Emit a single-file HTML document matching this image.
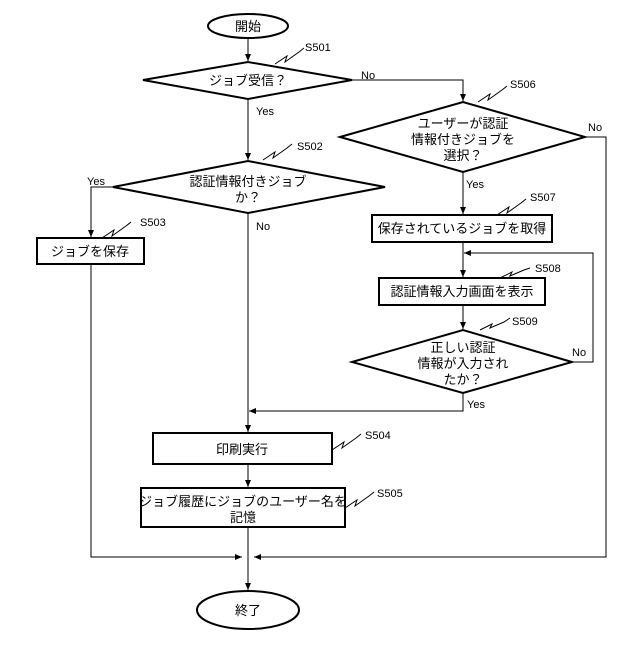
<!DOCTYPE html>
<html><head><meta charset="utf-8"><style>
html,body{margin:0;padding:0;background:#fff}
svg text{font-family:"Liberation Sans","Noto Sans CJK JP",sans-serif;fill:#000}
.t{font-size:13px;text-anchor:middle}
.l{font-size:11px}
</style></head><body>
<svg width="640" height="640" viewBox="0 0 640 640" xmlns="http://www.w3.org/2000/svg">
<defs><marker id="a" markerWidth="8" markerHeight="8" refX="7" refY="4" orient="auto" markerUnits="userSpaceOnUse"><path d="M0,1 L7,4 L0,7 z" fill="#000"/></marker></defs>
<g fill="none" stroke="#000" stroke-width="1">
<line x1="248" y1="38" x2="248" y2="61" marker-end="url(#a)"/>
<polyline points="352,80 463,80 463,101" marker-end="url(#a)"/>
<line x1="248" y1="99" x2="248" y2="160" marker-end="url(#a)"/>
<polyline points="113,187 91,187 91,237" marker-end="url(#a)"/>
<line x1="248" y1="213" x2="248" y2="432" marker-end="url(#a)"/>
<line x1="463" y1="172" x2="463" y2="214" marker-end="url(#a)"/>
<line x1="463" y1="242" x2="463" y2="277" marker-end="url(#a)"/>
<polyline points="572,362 593,362 593,253 464,253" marker-end="url(#a)"/>
<line x1="463" y1="305" x2="463" y2="329" marker-end="url(#a)"/>
<polyline points="463,393 463,411 249,411" marker-end="url(#a)"/>
<polyline points="585,137 606,137 606,557 254,557" marker-end="url(#a)"/>
<polyline points="91,264 91,557 242,557" marker-end="url(#a)"/>
<line x1="248" y1="464" x2="248" y2="487" marker-end="url(#a)"/>
<line x1="248" y1="527" x2="248" y2="590" marker-end="url(#a)"/>
<path d="M275,64 l12,-8 l-2,6 l14,-10 l5,-4"/>
<path d="M263,160 l12,-8 l-2,6 l14,-10 l5,-4"/>
<path d="M102,238 l12,-8 l-2,6 l14,-10 l5,-4"/>
<path d="M478,102 l12,-8 l-2,6 l14,-10 l5,-4"/>
<path d="M497,215 l12,-8 l-2,6 l14,-10 l5,-4"/>
<path d="M500,278 l12,-6 l-2,4 l14,-6 l6,-2"/>
<path d="M480,330 l12,-6 l-2,4 l14,-6 l6,-4"/>
<path d="M332,450 l12,-8 l-2,6 l14,-10 l5,-4"/>
<path d="M345,508 l12,-8 l-2,6 l14,-10 l5,-4"/>
</g>
<g fill="#fff" stroke="#000" stroke-width="2">
<ellipse cx="248" cy="26" rx="40" ry="12"/>
<polygon points="143,80 248,62 352,80 248,99"/>
<polygon points="113,187 248,161 385,187 248,213"/>
<rect x="37" y="238" width="107" height="26"/>
<polygon points="340,137 463,102 585,137 463,172"/>
<rect x="372" y="215" width="180" height="27"/>
<rect x="379" y="278" width="166" height="27"/>
<polygon points="352,362 463,330 572,362 463,393"/>
<rect x="153" y="433" width="179" height="31"/>
<rect x="141" y="488" width="204" height="39"/>
<ellipse cx="248" cy="610" rx="51" ry="19"/>
</g>
<text class="t" x="248" y="31">開始</text>
<text class="t" x="248" y="85">ジョブ受信？</text>
<text class="t" x="248" y="186">認証情報付きジョブ</text>
<text class="t" x="248" y="202">か？</text>
<text class="t" x="90" y="256">ジョブを保存</text>
<text class="t" x="463" y="128">ユーザーが認証</text>
<text class="t" x="463" y="144">情報付きジョブを</text>
<text class="t" x="463" y="160">選択？</text>
<text class="t" x="462" y="233">保存されているジョブを取得</text>
<text class="t" x="462" y="296">認証情報入力画面を表示</text>
<text class="t" x="463" y="352">正しい認証</text>
<text class="t" x="463" y="368">情報が入力され</text>
<text class="t" x="463" y="384">たか？</text>
<text class="t" x="242" y="454">印刷実行</text>
<text class="t" x="243" y="506">ジョブ履歴にジョブのユーザー名を</text>
<text class="t" x="243" y="522">記憶</text>
<text class="t" x="248" y="615">終了</text>
<g class="l">
<text x="305" y="51">S501</text>
<text x="297" y="150">S502</text>
<text x="140" y="226">S503</text>
<text x="510" y="88">S506</text>
<text x="530" y="201">S507</text>
<text x="535" y="272">S508</text>
<text x="512" y="325">S509</text>
<text x="365" y="439">S504</text>
<text x="377" y="497">S505</text>
<text x="361" y="79">No</text>
<text x="256" y="115">Yes</text>
<text x="87" y="185">Yes</text>
<text x="256" y="230">No</text>
<text x="588" y="131">No</text>
<text x="466" y="188">Yes</text>
<text x="572" y="356">No</text>
<text x="467" y="408">Yes</text>
</g>
</svg>
</body></html>
